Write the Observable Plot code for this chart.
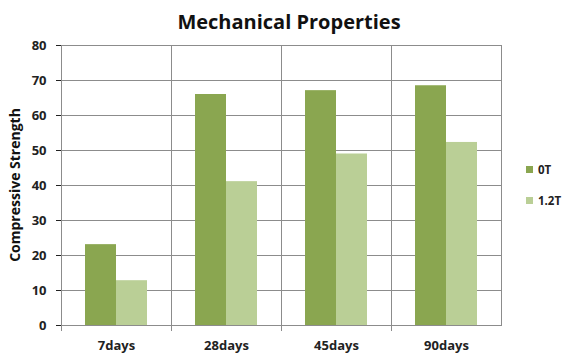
<!DOCTYPE html>
<html>
<head>
<meta charset="utf-8">
<script src="https://cdn.jsdelivr.net/npm/d3@7"></script>
<script src="https://cdn.jsdelivr.net/npm/@observablehq/plot@0.6"></script>
<style>
  body { margin: 0; background: #fff; font-family: "Open Sans", sans-serif; }
  #wrap { position: relative; width: 571px; height: 355px; }
  #title { height: 34px; width: 571px; position: relative; }
  #title span { position: absolute; left: 139px; width: 300px; top: 12px; text-align: center; font-weight: 700; font-size: 20px; line-height: 20px; color: #111; white-space: nowrap; }
  #legend { position: absolute; left: 526px; top: 161px; font-size: 11.5px; font-weight: 700; color: #222; }
  #legend div { display: flex; align-items: center; height: 16px; margin-bottom: 15px; }
  #legend span.sw { display: inline-block; width: 7px; height: 7px; margin-right: 5px; }
</style>
</head>
<body>
<div id="wrap">
  <div id="title"><span>Mechanical Properties</span></div>
  <div id="chart"></div>
  <div id="legend"></div>
</div>
<script>
const categories = ["7days", "28days", "45days", "90days"];
const series = ["0T", "1.2T"];
const values0T = [23.1, 66.0, 67.1, 68.5];
const values12T = [12.8, 41.1, 49.0, 52.3];
const colors = ["#8AA650", "#BACF96"];
const yTicks = [0, 10, 20, 30, 40, 50, 60, 70, 80];

const data = [];
categories.forEach((c, i) => {
  data.push({cat: c, series: "0T", value: values0T[i]});
  data.push({cat: c, series: "1.2T", value: values12T[i]});
});

const grid = "#8c8c8c";
const chart = Plot.plot({
  width: 571,
  height: 321,
  marginTop: 11,
  marginLeft: 60,
  marginRight: 70,
  marginBottom: 30,
  style: {fontFamily: "Open Sans, sans-serif", fontSize: "13px", fontWeight: 700, color: "#222"},
  fx: {domain: categories, padding: 0, label: null, tickSize: 0, tickPadding: 15},
  x: {domain: series, paddingInner: 0, paddingOuter: 0.72, axis: null},
  y: {domain: [0, 80], ticks: yTicks, tickSize: 5, tickPadding: 10, label: null, grid: false},
  color: {domain: series, range: colors},
  marks: [
    Plot.gridY(yTicks, {stroke: grid, strokeOpacity: 1, strokeWidth: 1}),
    Plot.frame({stroke: grid, strokeWidth: 1}),
    Plot.frame({anchor: "left", insetBottom: -5, stroke: grid, strokeWidth: 1}),
    Plot.barY(data, {fx: "cat", x: "series", y: "value", fill: "series"}),
    Plot.ruleY([0], {stroke: grid, strokeWidth: 1})
  ]
});
document.getElementById("chart").appendChild(chart);

// y-axis label
const svg = d3.select(chart);
svg.append("text")
  .attr("transform", "translate(16," + (11 + (321 - 11 - 30) / 2) + ") rotate(-90)")
  .attr("text-anchor", "middle")
  .attr("dominant-baseline", "middle")
  .style("font-size", "14px").style("font-weight", 700).style("fill", "#111")
  .text("Compressive Strength");

const legend = document.getElementById("legend");
series.forEach((s, i) => {
  const d = document.createElement("div");
  d.innerHTML = `<span class="sw" style="background:${colors[i]}"></span>${s}`;
  legend.appendChild(d);
});
</script>
</body>
</html>
